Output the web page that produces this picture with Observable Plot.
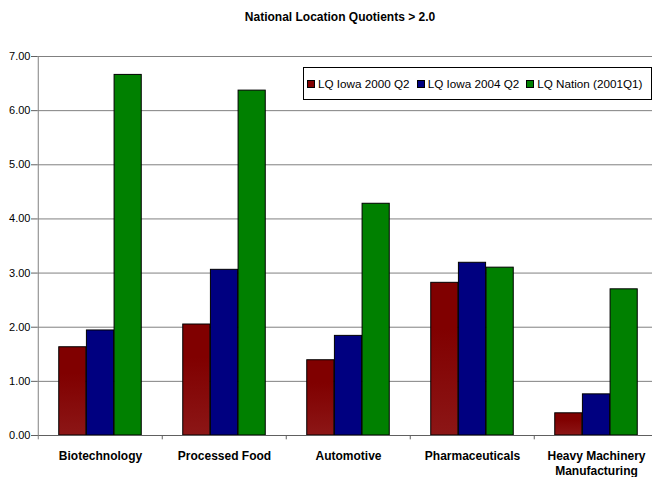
<!DOCTYPE html>
<html>
<head>
<meta charset="utf-8">
<script src="https://cdn.jsdelivr.net/npm/d3@7"></script>
<script src="https://cdn.jsdelivr.net/npm/@observablehq/plot@0.6"></script>
<style>
  html, body { margin: 0; padding: 0; background: white; }
  #wrap { position: relative; width: 652px; height: 477px; font-family: Arial, "Liberation Sans", sans-serif; color: black; }
  #title { position: absolute; left: 14px; width: 652px; top: 9px; line-height: 16px; text-align: center; font-weight: bold; font-size: 12px; }
  #legend { position: absolute; left: 303px; top: 67px; width: 344px; height: 31px; border: 1px solid black; background: white;
            display: flex; align-items: center; font-size: 11.7px; padding-left: 3px; box-sizing: content-box; }
  .item { display: flex; align-items: center; margin-right: 7px; white-space: nowrap; }
  .sw { width: 6px; height: 6px; border: 1px solid black; margin-right: 3px; }
</style>
</head>
<body>
<div id="wrap">
  <div id="chart"></div>
  <div id="title">National Location Quotients &gt; 2.0</div>
  <div id="legend"></div>
</div>
<script>
const categories = ["Biotechnology", "Processed Food", "Automotive", "Pharmaceuticals", "Heavy Machinery\nManufacturing"];
const series = ["LQ Iowa 2000 Q2", "LQ Iowa 2004 Q2", "LQ Nation (2001Q1)"];
const iowa2000 = [1.63, 2.05, 1.39, 2.82, 0.41];
const iowa2004 = [1.94, 3.06, 1.84, 3.19, 0.76];
const nation2001 = [6.66, 6.37, 4.28, 3.10, 2.70];
const yTicks = [0, 1, 2, 3, 4, 5, 6, 7];
const colors = ["url(#redGrad)", "#000080", "#008000"];
const swatchColors = ["#800000", "#000080", "#008000"];

const values = [iowa2000, iowa2004, nation2001];
const rows = series.map((s, i) => categories.map((c, j) => ({cat: c, series: s, v: values[i][j]})));

const bandW = 124.5;
const outer = 20.75;
const barW = (bandW - 2 * outer) / 3;

const barMarks = rows.map((data, i) => Plot.barY(data, {
  x: "cat", y: "v", fill: colors[i], stroke: "black", strokeWidth: 1,
  insetLeft: outer + i * barW, insetRight: bandW - outer - (i + 1) * barW
}));

const chart = Plot.plot({
  width: 652, height: 477,
  marginTop: 56, marginBottom: 42, marginLeft: 37, marginRight: 0,
  style: {fontFamily: "Arial, 'Liberation Sans', sans-serif", fontSize: "11px", background: "white", color: "black"},
  x: {domain: categories, range: [37, 37 + 5 * bandW], padding: 0},
  y: {domain: [0, 7]},
  marks: [
    Plot.ruleY(yTicks.slice(1), {stroke: "#808080", strokeWidth: 1}),
    ...barMarks,
    Plot.ruleY([0], {stroke: "#606060", strokeWidth: 1}),
    Plot.ruleX([categories[0]], {dx: -bandW / 2, y1: -0.08, y2: 7, stroke: "#808080"}),
    Plot.ruleX(categories.slice(1), {dx: -bandW / 2, y1: 0, y2: -0.08, stroke: "#606060"}),
    Plot.axisY({ticks: yTicks, tickFormat: d3.format(".2f"), tickSize: 6, tickPadding: 1, fontSize: 11, label: null, stroke: "#606060"}),
    Plot.axisX({tickSize: 0, tickPadding: 15, fontSize: 12, fontWeight: "bold", label: null, lineHeight: 1.17})
  ]
});

const svg = d3.select(chart);
const defs = svg.insert("defs", ":first-child");
const g = defs.append("linearGradient").attr("id", "redGrad").attr("x1", 0).attr("y1", 0).attr("x2", 0).attr("y2", 1);
g.append("stop").attr("offset", "0").attr("stop-color", "#800000");
g.append("stop").attr("offset", "0.3").attr("stop-color", "#800000");
g.append("stop").attr("offset", "1").attr("stop-color", "#8c1616");

document.getElementById("chart").appendChild(chart);

const legend = d3.select("#legend");
series.forEach((s, i) => {
  const it = legend.append("div").attr("class", "item");
  it.append("div").attr("class", "sw").style("background", swatchColors[i]);
  it.append("span").text(s);
});
</script>
</body>
</html>
